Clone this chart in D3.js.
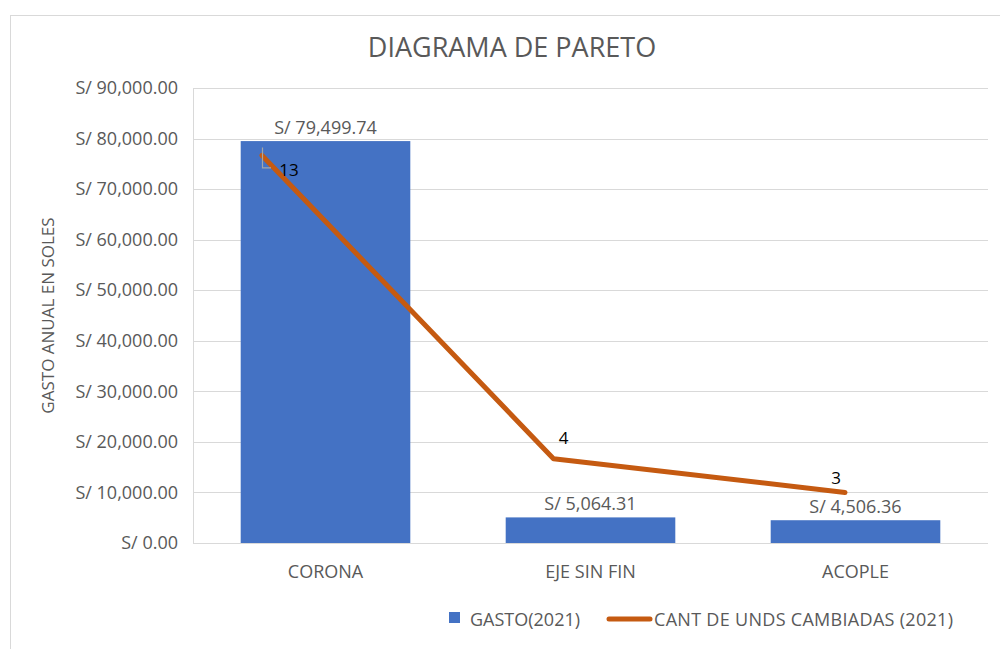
<!DOCTYPE html>
<html>
<head>
<meta charset="utf-8">
<script src="https://cdn.jsdelivr.net/npm/d3@7"></script>
<style>
	body { margin: 0; background: #fff; }
	text { font-family: 'Open Sans', 'Noto Sans', sans-serif; }
</style>
</head>
<body>
<div class="chart"></div>
<script>
// pareto - gasto vs unidades cambiadas
const categories = ['CORONA', 'EJE SIN FIN', 'ACOPLE']
const gasto = [79499.74, 5064.31, 4506.36]
const unidades = [13, 4, 3]
const yTicks = [0, 10000, 20000, 30000, 40000, 50000, 60000, 70000, 80000, 90000]

const margin = ({top: 88, right: 12, bottom: 106, left: 193})
const width = 1000 - margin.left - margin.right
const height = 649 - margin.top - margin.bottom

const root = d3.select('.chart')
	.append('svg')
	.attr('width', 1000)
	.attr('height', 649)

// chart frame
root.append('rect')
	.attr('x', 10.5)
	.attr('y', 15.5)
	.attr('width', 1000)
	.attr('height', 700)
	.attr('fill', 'none')
	.attr('stroke', '#d9d9d9')

root.append('text')
	.attr('x', 512)
	.attr('y', 57)
	.attr('text-anchor', 'middle')
	.attr('font-size', '27px')
	.attr('fill', '#595959')
	.text('DIAGRAMA DE PARETO')

const svg = root.append('g')
	.attr('transform', 'translate(' + margin.left + ',' + margin.top + ')')

const xScale = d3.scaleBand()
	.domain(categories)
	.range([0, width])
	.paddingInner(0.36)
	.paddingOuter(0.18)

const yScale = d3.scaleLinear()
	.domain([0, 90000])
	.range([height, 0])

// secondary axis (hidden) for the line
const x2Scale = d3.scalePoint()
	.domain(categories)
	.range([69, 652])

const y2Scale = d3.scaleLinear()
	.domain([1.5, 15])
	.range([height, 0])

const fmt = d3.format(',.2f')

// gridlines
svg.append('g')
	.selectAll('line')
	.data(yTicks)
	.enter()
	.append('line')
	.attr('x1', 0)
	.attr('x2', width)
	.attr('y1', d => Math.round(yScale(d)) + 0.5)
	.attr('y2', d => Math.round(yScale(d)) + 0.5)
	.attr('stroke', '#d9d9d9')

svg.append('line')
	.attr('x1', 0.5)
	.attr('x2', 0.5)
	.attr('y1', 0)
	.attr('y2', height)
	.attr('stroke', '#d9d9d9')

const yAxis = d3.axisLeft(yScale)
	.tickValues(yTicks)
	.tickSize(0)
	.tickPadding(15)
	.tickFormat(d => 'S/ ' + fmt(d))

svg.append('g')
	.attr('class', 'axis y-axis')
	.call(yAxis)
	.call(g => g.select('.domain').remove())
	.selectAll('text')
	.attr('font-size', '18px')
	.attr('fill', '#595959')
	.attr('font-family', "'Open Sans', sans-serif")

const xAxis = d3.axisBottom(xScale)
	.tickSize(0)
	.tickPadding(22)

svg.append('g')
	.attr('class', 'axis x-axis')
	.attr('transform', `translate(0, ${height})`)
	.call(xAxis)
	.call(g => g.select('.domain').remove())
	.selectAll('text')
	.attr('font-size', '18px')
	.attr('fill', '#595959')
	.attr('font-family', "'Open Sans', sans-serif")

// y-axis label
svg.append('text')
	.attr('transform', 'rotate(-90)')
	.attr('x', -height / 2)
	.attr('y', -139)
	.attr('text-anchor', 'middle')
	.attr('font-size', '17px')
	.attr('fill', '#595959')
	.text('GASTO ANUAL EN SOLES')

// bars
svg.selectAll('.bar')
	.data(categories)
	.enter()
	.append('rect')
	.attr('class', 'bar')
	.attr('x', d => xScale(d))
	.attr('y', (d, i) => yScale(gasto[i]))
	.attr('width', xScale.bandwidth())
	.attr('height', (d, i) => height - yScale(gasto[i]))
	.attr('fill', '#4472c4')

// bar labels
svg.selectAll('.bar-label')
	.data(categories)
	.enter()
	.append('text')
	.attr('class', 'bar-label')
	.attr('x', d => xScale(d) + xScale.bandwidth() / 2)
	.attr('y', (d, i) => yScale(gasto[i]) - 7)
	.attr('text-anchor', 'middle')
	.attr('font-size', '18px')
	.attr('fill', '#595959')
	.text((d, i) => 'S/ ' + fmt(gasto[i]))

// line
const line = d3.line()
	.x((d, i) => x2Scale(categories[i]))
	.y(d => y2Scale(d))

svg.append('path')
	.datum(unidades)
	.attr('d', line)
	.attr('fill', 'none')
	.attr('stroke', '#c55a11')
	.attr('stroke-width', 5)
	.attr('stroke-linecap', 'round')
	.attr('stroke-linejoin', 'round')

// leader for first label
const p0x = x2Scale(categories[0])
const p0y = y2Scale(unidades[0])
svg.append('path')
	.attr('d', `M${p0x + 0.5},${p0y - 8} V${p0y + 12.5} H${p0x + 9}`)
	.attr('fill', 'none')
	.attr('stroke', '#a6a6a6')
	.attr('stroke-width', 1.2)

// line labels
const labelOffsets = [[27, 21], [10, -15], [-9, -8]]
svg.selectAll('.line-label')
	.data(unidades)
	.enter()
	.append('text')
	.attr('class', 'line-label')
	.attr('x', (d, i) => x2Scale(categories[i]) + labelOffsets[i][0])
	.attr('y', (d, i) => y2Scale(d) + labelOffsets[i][1])
	.attr('text-anchor', 'middle')
	.attr('font-size', '17px')
	.attr('fill', '#000')
	.text(d => d)

// legend
const legend = root.append('g')
legend.append('rect')
	.attr('x', 449)
	.attr('y', 612)
	.attr('width', 11)
	.attr('height', 11)
	.attr('fill', '#4472c4')
legend.append('text')
	.attr('x', 470)
	.attr('y', 626)
	.attr('font-size', '18px')
	.attr('fill', '#595959')
	.text('GASTO(2021)')
legend.append('line')
	.attr('x1', 609)
	.attr('x2', 650)
	.attr('y1', 619)
	.attr('y2', 619)
	.attr('stroke', '#c55a11')
	.attr('stroke-width', 5)
	.attr('stroke-linecap', 'round')
legend.append('text')
	.attr('x', 654)
	.attr('y', 626)
	.attr('font-size', '18px')
	.attr('letter-spacing', '0.3px')
	.attr('fill', '#595959')
	.text('CANT DE UNDS CAMBIADAS (2021)')
</script>
</body>
</html>
